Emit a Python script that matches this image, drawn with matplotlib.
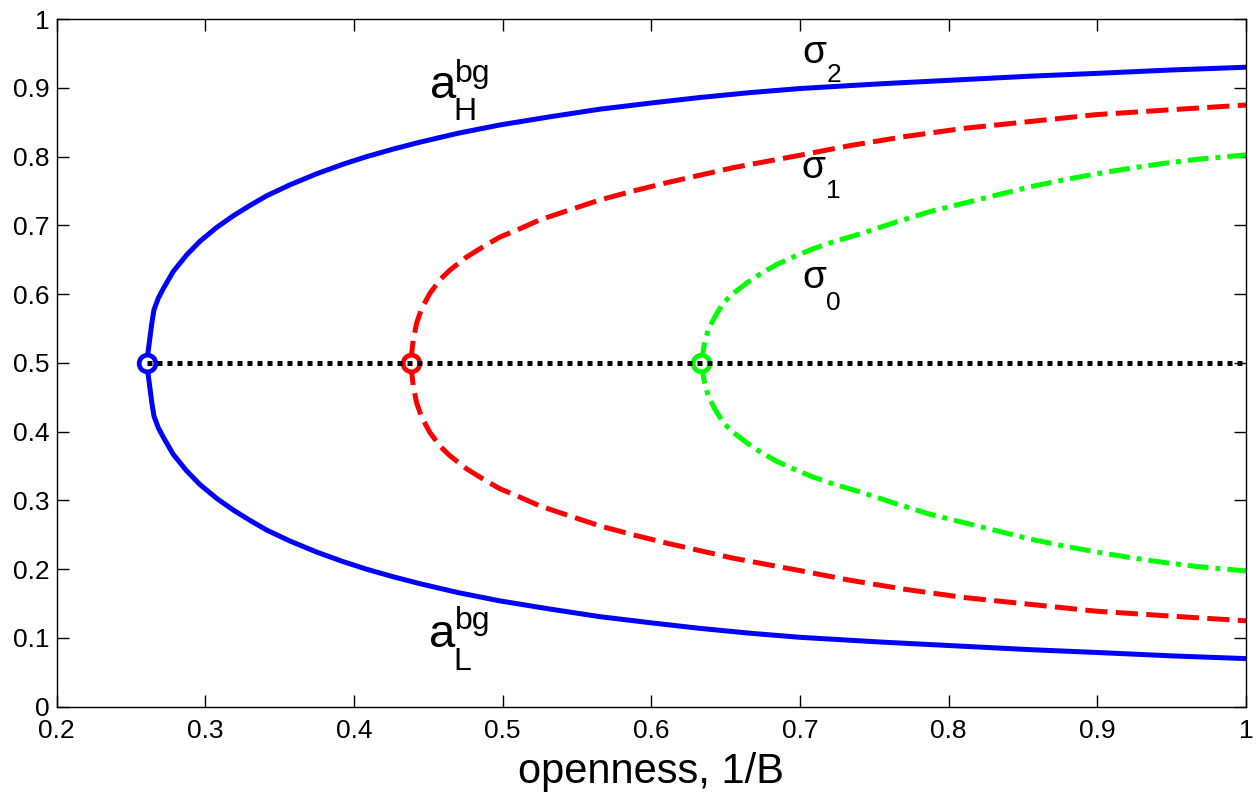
import matplotlib
matplotlib.use("Agg")
import matplotlib.pyplot as plt
from matplotlib.ticker import FuncFormatter

plt.rcParams['font.family'] = ['Liberation Sans', 'DejaVu Sans']
plt.rcParams['lines.scale_dashes'] = False

# background equilibria, upper and lower branches
blue_x = [0.2605, 0.2640, 0.2654, 0.2683, 0.2717, 0.2784, 0.2874, 0.2964, 0.3076,
          0.3188, 0.3300, 0.3412, 0.3569, 0.3748, 0.3927, 0.4085, 0.4264, 0.4443,
          0.4700, 0.4980, 0.5320, 0.5654, 0.6000, 0.6327, 0.6660, 0.6999, 0.7550,
          0.8097, 0.8550, 0.8990, 0.9500, 1.0]
blue_hi = [0.500, 0.558, 0.577, 0.594, 0.608, 0.633, 0.657, 0.677, 0.697,
           0.714, 0.729, 0.743, 0.759, 0.775, 0.789, 0.800, 0.811, 0.821,
           0.834, 0.846, 0.858, 0.869, 0.878, 0.886, 0.893, 0.899, 0.906,
           0.912, 0.917, 0.921, 0.926, 0.930]
blue_lo = [0.500, 0.442, 0.423, 0.406, 0.392, 0.367, 0.343, 0.323, 0.303,
           0.286, 0.271, 0.257, 0.241, 0.225, 0.211, 0.200, 0.189, 0.179,
           0.166, 0.154, 0.142, 0.131, 0.122, 0.114, 0.107, 0.101, 0.094,
           0.088, 0.083, 0.079, 0.074, 0.070]

red_x = [0.4380, 0.4398, 0.4421, 0.4455, 0.4510, 0.4578, 0.4645, 0.4757, 0.4869,
         0.4981, 0.5093, 0.5250, 0.5430, 0.5654, 0.5878, 0.6102, 0.6327, 0.6551,
         0.6775, 0.6999, 0.7335, 0.7700, 0.8097, 0.8545, 0.8990, 0.9555, 1.0]
red_hi = [0.500, 0.533, 0.558, 0.579, 0.601, 0.621, 0.635, 0.654, 0.669,
          0.683, 0.693, 0.708, 0.721, 0.737, 0.750, 0.762, 0.773, 0.784,
          0.793, 0.802, 0.816, 0.829, 0.841, 0.851, 0.861, 0.869, 0.875]
red_lo = [0.500, 0.467, 0.442, 0.421, 0.399, 0.379, 0.365, 0.346, 0.331,
          0.317, 0.307, 0.292, 0.279, 0.263, 0.250, 0.238, 0.227, 0.216,
          0.207, 0.198, 0.184, 0.171, 0.159, 0.149, 0.139, 0.131, 0.125]

green_x = [0.6337, 0.6353, 0.6382, 0.6427, 0.6483, 0.6551, 0.6640, 0.6730, 0.6842,
           0.6954, 0.7088, 0.7223, 0.7425, 0.7649, 0.7873, 0.8097, 0.8322, 0.8545,
           0.8769, 0.8994, 0.9218, 0.9442, 0.9666, 1.0]
green_hi = [0.500, 0.524, 0.548, 0.567, 0.587, 0.601, 0.616, 0.629, 0.643,
            0.654, 0.666, 0.676, 0.689, 0.705, 0.720, 0.732, 0.744, 0.756,
            0.766, 0.775, 0.783, 0.790, 0.796, 0.8025]
green_lo = [0.500, 0.476, 0.452, 0.433, 0.413, 0.399, 0.384, 0.371, 0.357,
            0.346, 0.334, 0.324, 0.311, 0.295, 0.280, 0.268, 0.256, 0.244,
            0.234, 0.225, 0.217, 0.210, 0.204, 0.1975]

# symmetric state
sym_x = [0.2605, 1.0]
sym_y = [0.5, 0.5]

# bifurcation points
bif_x = [0.2605, 0.4380, 0.6337]
bif_y = [0.5, 0.5, 0.5]
bif_c = ['#0000ff', '#ff0000', '#00ff00']

fig = plt.figure(figsize=(12.6, 7.95), dpi=100)
ax = fig.add_axes([0.045, 0.111, 0.9439, 0.865])

lw = 3.6
ax.plot(blue_x, blue_hi, color='#0000ff', lw=lw)
ax.plot(blue_x, blue_lo, color='#0000ff', lw=lw)
ax.plot(red_x, red_hi, color='#ff0000', lw=lw, linestyle=(0, (16, 6)), dash_capstyle='butt')
ax.plot(red_x, red_lo, color='#ff0000', lw=lw, linestyle=(0, (16, 6)), dash_capstyle='butt')
ax.plot(green_x, green_hi, color='#00ff00', lw=lw, linestyle=(0, (15, 5, 3.6, 5)), dash_capstyle='butt')
ax.plot(green_x, green_lo, color='#00ff00', lw=lw, linestyle=(0, (15, 5, 3.6, 5)), dash_capstyle='butt')

for x, y, c in zip(bif_x, bif_y, bif_c):
    ax.plot([x], [y], 'o', ms=12, mfc='white', mec=c, mew=3.4, zorder=4)

ax.plot(sym_x, sym_y, color='black', lw=lw, linestyle=(0, (3.6, 3.6)),
        dash_capstyle='butt', zorder=5)

# curve labels: main letter, superscript and subscript as separate texts
big, small = 34, 23
ax.text(0.4510, 0.8850, 'a', fontsize=big, va='baseline', ha='left')
ax.text(0.4679, 0.9090, 'bg', fontsize=small, va='baseline', ha='left')
ax.text(0.4667, 0.8534, 'H', fontsize=small, va='baseline', ha='left')

ax.text(0.4506, 0.0871, 'a', fontsize=big, va='baseline', ha='left')
ax.text(0.4679, 0.1125, 'bg', fontsize=small, va='baseline', ha='left')
ax.text(0.4667, 0.0532, 'L', fontsize=small, va='baseline', ha='left')

sig, sub = 28, 19
for sx, sy, subx, suby, idx in [(0.7017, 0.9359, 0.7178, 0.9091, '2'),
                                (0.7010, 0.7686, 0.7178, 0.7395, '1'),
                                (0.7017, 0.6085, 0.7178, 0.5770, '0')]:
    ax.text(sx, sy, 'σ', fontsize=sig, va='baseline', ha='left')
    ax.text(subx, suby, idx, fontsize=sub, va='baseline', ha='left')

ax.set_xlim(0.2, 1.0)
ax.set_ylim(0, 1)
ax.set_xticks([0.2, 0.3, 0.4, 0.5, 0.6, 0.7, 0.8, 0.9, 1.0])
ax.set_yticks([0, 0.1, 0.2, 0.3, 0.4, 0.5, 0.6, 0.7, 0.8, 0.9, 1.0])
ax.xaxis.set_major_formatter(FuncFormatter(lambda v, p: '%g' % round(v, 2)))
ax.yaxis.set_major_formatter(FuncFormatter(lambda v, p: '%g' % round(v, 2)))
ax.tick_params(direction='in', length=8.5, width=1, labelsize=19,
               top=True, right=True)
ax.tick_params(axis='x', pad=9)
ax.tick_params(axis='y', pad=5)
for s in ax.spines.values():
    s.set_linewidth(1.0)

ax.set_xlabel('openness, 1/B', fontsize=30)
ax.xaxis.label.set_va('baseline')
ax.xaxis.set_label_coords(0.5, -0.111)

fig.savefig('out.png', dpi=100)
